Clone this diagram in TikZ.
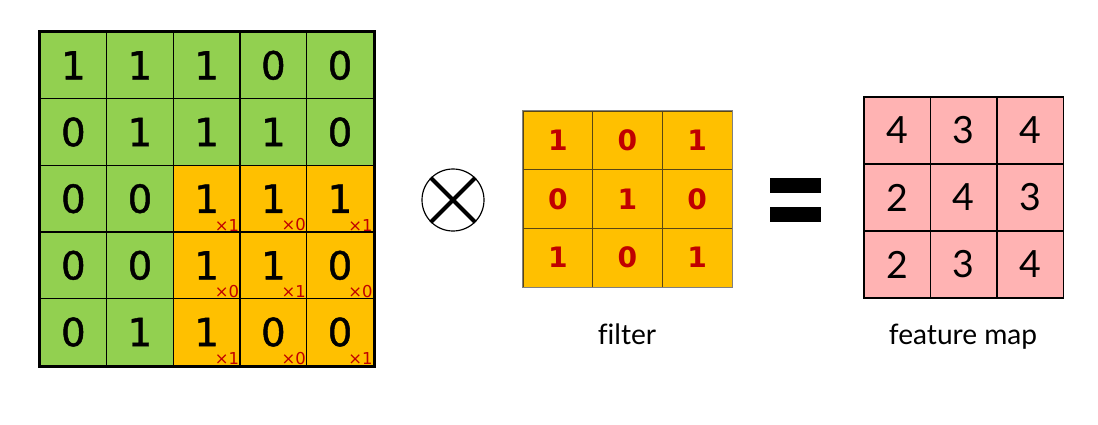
\documentclass[tikz,border=0pt]{standalone}
\usepackage{fontspec}
\setmainfont{Lato}[Ligatures=NoCommon]
\newfontfamily\gridfont{DejaVu Sans}
\newfontfamily\heavygrid{DejaVu Sans}[FakeBold=1.2]
\usetikzlibrary{positioning}

\definecolor{inputgreen}{RGB}{146,208,80}
\definecolor{windoworange}{RGB}{255,192,0}
\definecolor{mappink}{RGB}{255,179,179}
\definecolor{weightred}{RGB}{192,0,0}
\definecolor{filterline}{RGB}{90,70,20}

\begin{document}
\begin{tikzpicture}[x=0.03cm, y=-0.03cm,
  incell/.style={draw, line width=1.3pt, minimum width=2cm, minimum height=2cm, inner sep=0pt, font=\heavygrid\fontsize{33}{33}\selectfont},
  weight/.style={text=weightred, inner sep=1.2pt, font=\gridfont\fontsize{14}{14}\selectfont},
  fcell/.style={draw=filterline, line width=0.8pt, fill=windoworange, minimum width=2.09cm, minimum height=1.76cm, inner sep=0pt, text=weightred, font=\gridfont\bfseries\fontsize{24}{24}\selectfont},
  mapcell/.style={draw, line width=1.4pt, fill=mappink, minimum width=2cm, minimum height=2cm, inner sep=0pt, font=\fontsize{32}{32}\selectfont},
  caption/.style={anchor=base, font=\fontsize{24}{24}\selectfont}]
\useasboundingbox (0,0) rectangle (1098,425);

% Input image, window in orange
\foreach \vals [count=\r] in {{1,1,1,0,0},{0,1,1,1,0},{0,0,1,1,1},{0,0,1,1,0},{0,1,1,0,0}}
  \foreach \v [count=\c] in \vals {
    \pgfmathtruncatemacro\inwin{and(\r>2,\c>2)}
    \ifnum\inwin=1 \def\cellfill{windoworange}\else\def\cellfill{inputgreen}\fi
    \node[incell, fill=\cellfill] (in-\r-\c) at ({40+66.67*(\c-0.5)}, {32+66.67*(\r-0.5)}) {\v};
  }

% Filter weights on the window
\foreach \r/\c/\w in {3/3/1,3/4/0,3/5/1,4/3/0,4/4/1,4/5/0,5/3/1,5/4/0,5/5/1}
  \node[weight, anchor=south east] (w-\r-\c) at (in-\r-\c.south east) {×\w};
\draw[line width=2.5pt] (in-1-1.north west) rectangle (in-5-5.south east);

% Convolution sign
\node[draw, circle, line width=1pt, minimum size=1.86cm] (conv) at (453,200) {};
\draw[line width=3.5pt] (conv.north west) -- (conv.south east);
\draw[line width=3.5pt] (conv.north east) -- (conv.south west);

% Filter
\foreach \vals [count=\r] in {{1,0,1},{0,1,0},{1,0,1}}
  \foreach \v [count=\c] in \vals
    \node[fcell] (f-\r-\c) at ({523+69.67*(\c-0.5)}, {111+58.67*(\r-0.5)}) {\v};
\draw[gray, line width=1pt] (f-1-1.north west) rectangle (f-3-3.south east);
\node[caption] (filtername) at (627,344) {filter};

% Equals sign
\node[fill, minimum width=1.53cm, minimum height=0.45cm, inner sep=0pt] (eq-top) at (795.5,185.5) {};
\node[fill, minimum width=1.53cm, minimum height=0.45cm, inner sep=0pt] (eq-bot) at (795.5,214.5) {};

% Feature map
\foreach \vals [count=\r] in {{4,3,4},{2,4,3},{2,3,4}}
  \foreach \v [count=\c] in \vals
    \node[mapcell] (fm-\r-\c) at ({864+66.5*(\c-0.5)}, {97+67*(\r-0.5)}) {\v};
\node[caption] (mapname) at (963,344) {feature map};
\end{tikzpicture}
\end{document}
